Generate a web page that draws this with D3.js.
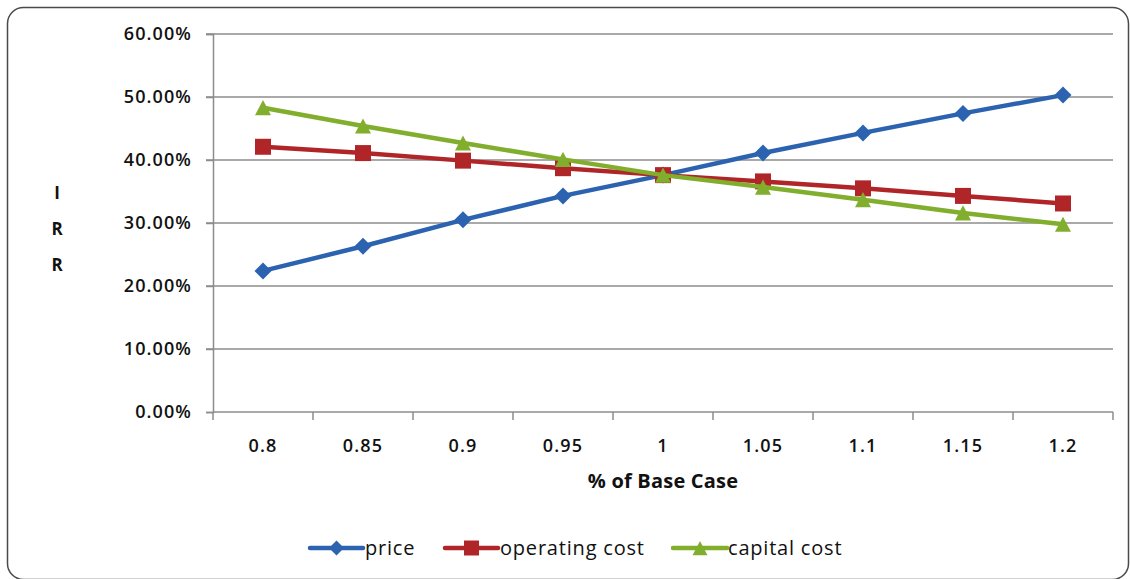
<!DOCTYPE html>
<html>
<head>
<meta charset="utf-8">
<script src="https://cdn.jsdelivr.net/npm/d3@7"></script>
<style>
  html, body { margin: 0; padding: 0; background: #fff; }
  svg { display: block; font-family: "Open Sans", Lato, sans-serif; }
</style>
</head>
<body>
<svg id="chart" width="1130" height="579"></svg>
<script>
// Sensitivity of IRR to changes in price, operating cost and capital cost
const categories = ["0.8", "0.85", "0.9", "0.95", "1", "1.05", "1.1", "1.15", "1.2"];
const price         = [0.224, 0.263, 0.305, 0.343, 0.376, 0.411, 0.443, 0.474, 0.503];
const operatingCost = [0.421, 0.411, 0.399, 0.387, 0.376, 0.366, 0.355, 0.343, 0.331];
const capitalCost   = [0.483, 0.454, 0.427, 0.401, 0.376, 0.357, 0.337, 0.316, 0.298];
const yTicks = [0, 0.1, 0.2, 0.3, 0.4, 0.5, 0.6];

const series = [
  { name: "price", values: price, color: "#2C63B0", marker: "diamond" },
  { name: "operating cost", values: operatingCost, color: "#B02628", marker: "square" },
  { name: "capital cost", values: capitalCost, color: "#82AE2E", marker: "triangle" }
];

const FONT = "'Open Sans', Lato, sans-serif";
const svg = d3.select("#chart");
const plot = { left: 213, right: 1113, top: 34, bottom: 412 };

// Rounded chart frame
svg.append("rect")
  .attr("x", 7.5).attr("y", 7.5)
  .attr("width", 1121).attr("height", 572)
  .attr("rx", 16).attr("ry", 16)
  .attr("fill", "#fff")
  .attr("stroke", "#4a4a4a").attr("stroke-width", 1.5);

const x = d3.scaleBand().domain(categories).range([plot.left, plot.right]);
const y = d3.scaleLinear().domain([0, 0.6]).range([plot.bottom, plot.top]);

// Horizontal gridlines
svg.append("g")
  .selectAll("line").data(yTicks.filter(d => d > 0)).join("line")
  .attr("x1", plot.left - 7).attr("x2", plot.right)
  .attr("y1", d => y(d)).attr("y2", d => y(d))
  .attr("stroke", "#8c8c8c").attr("stroke-width", 1.5);

// Y axis
const yAxis = svg.append("g")
  .attr("transform", `translate(${plot.left},0)`)
  .call(d3.axisLeft(y).tickValues(yTicks).tickFormat(d3.format(".2%")).tickSize(7).tickPadding(14));
yAxis.select(".domain").attr("stroke", "#8c8c8c").attr("stroke-width", 1.5);
yAxis.selectAll(".tick line").attr("stroke", "#8c8c8c").attr("stroke-width", 1.5);
yAxis.selectAll("text").attr("font-size", 18).attr("font-weight", 600).attr("fill", "#111")
  .attr("letter-spacing", 1.1).attr("font-family", FONT);

// X axis with ticks on band boundaries
const xAxisG = svg.append("g").attr("transform", `translate(0,${plot.bottom})`);
xAxisG.append("line")
  .attr("x1", plot.left).attr("x2", plot.right)
  .attr("stroke", "#8c8c8c").attr("stroke-width", 1.5);
const bounds = categories.map(c => x(c)).concat([x(categories[categories.length - 1]) + x.bandwidth()]);
xAxisG.selectAll("line.tk").data(bounds).join("line").attr("class", "tk")
  .attr("x1", d => d).attr("x2", d => d).attr("y1", 0).attr("y2", 8)
  .attr("stroke", "#8c8c8c").attr("stroke-width", 1.5);
xAxisG.selectAll("text").data(categories).join("text")
  .attr("x", d => x(d) + x.bandwidth() / 2).attr("y", 40)
  .attr("text-anchor", "middle")
  .attr("font-size", 18).attr("font-weight", 600).attr("fill", "#111")
  .attr("letter-spacing", 1.2)
  .text(d => d);

// Axis titles
svg.append("text")
  .attr("x", (plot.left + plot.right) / 2).attr("y", 488)
  .attr("text-anchor", "middle")
  .attr("font-size", 20).attr("font-weight", 700).attr("fill", "#111")
  .attr("letter-spacing", 0.2)
  .text("% of Base Case");
const irr = svg.append("g");
["I", "R", "R"].forEach((ch, i) => {
  irr.append("text")
    .attr("x", 57).attr("y", 199 + i * 36)
    .attr("text-anchor", "middle")
    .attr("font-size", 17).attr("font-weight", 700).attr("fill", "#111")
    .text(ch);
});

// Marker shapes
function markerPath(type, size) {
  const s = size / 2;
  if (type === "diamond") return `M0,${-s}L${s},0L0,${s}L${-s},0Z`;
  if (type === "square") return `M${-s},${-s}H${s}V${s}H${-s}Z`;
  const h = size * 0.95;
  return `M0,${-h / 2}L${s},${h / 2}L${-s},${h / 2}Z`;
}

const line = d3.line()
  .x((d, i) => x(categories[i]) + x.bandwidth() / 2)
  .y(d => y(d));

series.forEach(s => {
  const g = svg.append("g");
  g.append("path")
    .attr("d", line(s.values))
    .attr("fill", "none")
    .attr("stroke", s.color).attr("stroke-width", 4.5)
    .attr("stroke-linejoin", "round");
  g.selectAll("path.mk").data(s.values).join("path").attr("class", "mk")
    .attr("transform", (d, i) => `translate(${x(categories[i]) + x.bandwidth() / 2},${y(d)})`)
    .attr("d", markerPath(s.marker, s.marker === "diamond" ? 17 : 16))
    .attr("fill", s.color);
});

// Legend
const legendItems = [
  { s: series[0], x1: 310, x2: 363, tx: 365 },
  { s: series[1], x1: 445, x2: 498, tx: 500 },
  { s: series[2], x1: 673, x2: 727, tx: 728 }
];
const lg = svg.append("g").attr("transform", "translate(0,548)");
legendItems.forEach(it => {
  lg.append("line")
    .attr("x1", it.x1).attr("x2", it.x2)
    .attr("stroke", it.s.color).attr("stroke-width", 4.5).attr("stroke-linecap", "round");
  lg.append("path")
    .attr("transform", `translate(${(it.x1 + it.x2) / 2},0)`)
    .attr("d", markerPath(it.s.marker, 15))
    .attr("fill", it.s.color);
  lg.append("text")
    .attr("x", it.tx).attr("y", 7)
    .attr("font-size", 20).attr("fill", "#111")
    .attr("letter-spacing", 0.8)
    .text(it.s.name);
});
</script>
</body>
</html>
